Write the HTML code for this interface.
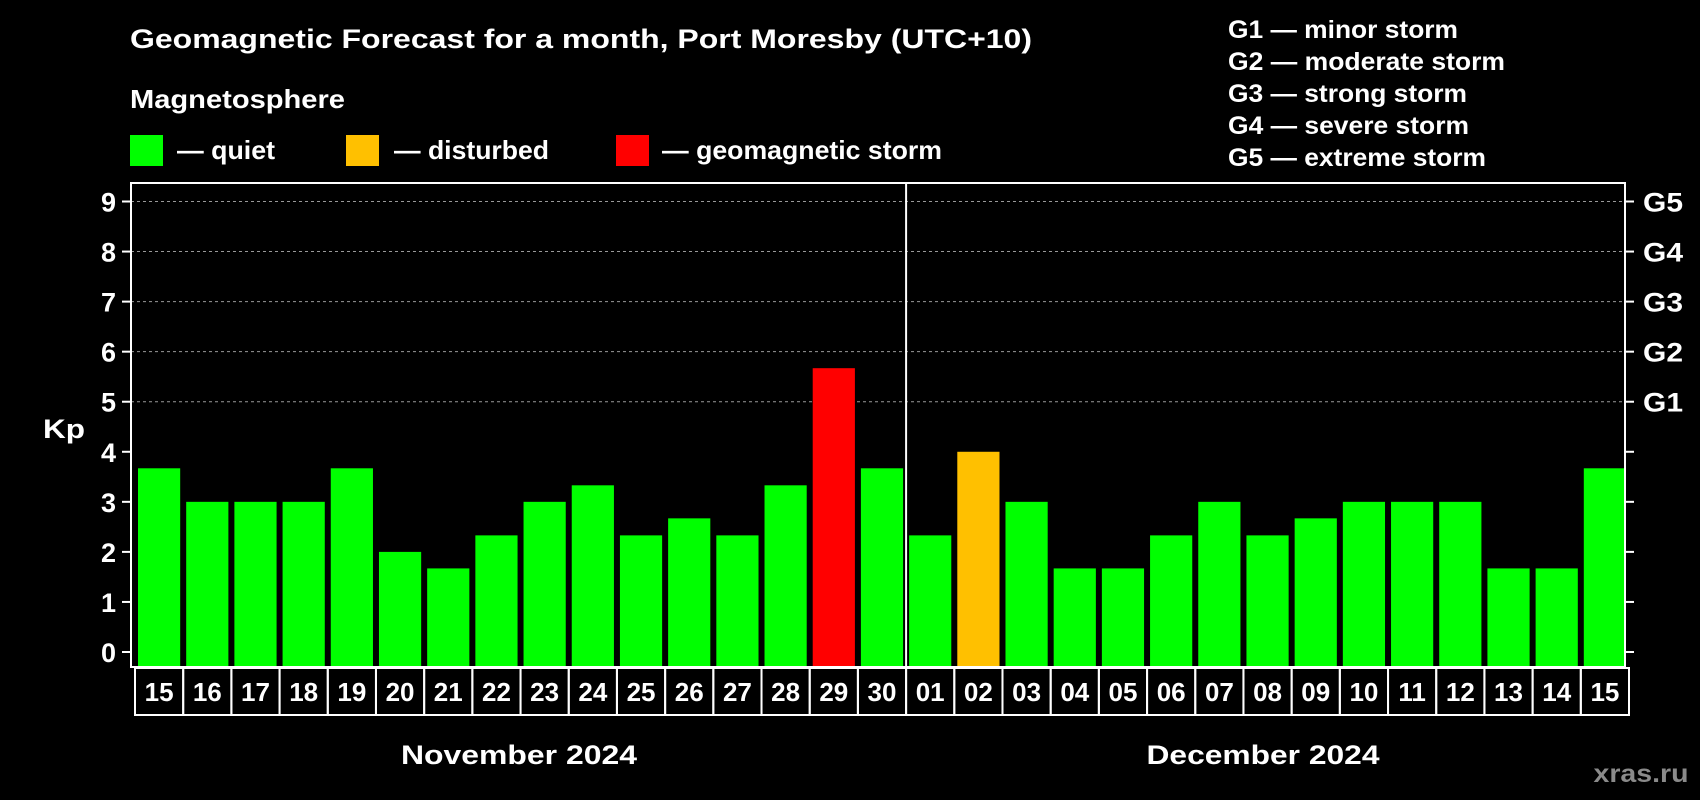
<!DOCTYPE html>
<html><head><meta charset="utf-8"><style>
html,body{margin:0;padding:0;background:#000;width:1700px;height:800px;overflow:hidden}
svg text{font-family:"Liberation Sans",Arial,sans-serif;font-weight:bold;fill:#fff}
</style></head><body>
<svg id="chart" width="1700" height="800" xmlns="http://www.w3.org/2000/svg">
<text x="130" y="48" font-size="27" textLength="902" lengthAdjust="spacingAndGlyphs">Geomagnetic Forecast for a month, Port Moresby (UTC+10)</text>
<text x="130" y="108" font-size="26" textLength="215" lengthAdjust="spacingAndGlyphs">Magnetosphere</text>
<rect x="130" y="135" width="33" height="31" fill="#00ff00"/>
<text x="177" y="159" font-size="26" textLength="98" lengthAdjust="spacingAndGlyphs">— quiet</text>
<rect x="346" y="135" width="33" height="31" fill="#ffc000"/>
<text x="394" y="159" font-size="26" textLength="155" lengthAdjust="spacingAndGlyphs">— disturbed</text>
<rect x="616" y="135" width="33" height="31" fill="#ff0000"/>
<text x="662" y="159" font-size="26" textLength="280" lengthAdjust="spacingAndGlyphs">— geomagnetic storm</text>
<g>
<text x="1228" y="38" font-size="25" textLength="230" lengthAdjust="spacingAndGlyphs">G1 — minor storm</text>
<text x="1228" y="70" font-size="25" textLength="277" lengthAdjust="spacingAndGlyphs">G2 — moderate storm</text>
<text x="1228" y="102" font-size="25" textLength="239" lengthAdjust="spacingAndGlyphs">G3 — strong storm</text>
<text x="1228" y="134" font-size="25" textLength="241" lengthAdjust="spacingAndGlyphs">G4 — severe storm</text>
<text x="1228" y="166" font-size="25" textLength="258" lengthAdjust="spacingAndGlyphs">G5 — extreme storm</text>
</g>
<text x="43" y="438" font-size="27" textLength="42" lengthAdjust="spacingAndGlyphs">Kp</text>
<g id="plot"></g>
<text x="519" y="764" font-size="27" text-anchor="middle" textLength="236" lengthAdjust="spacingAndGlyphs">November 2024</text>
<text x="1263" y="764" font-size="27" text-anchor="middle" textLength="233" lengthAdjust="spacingAndGlyphs">December 2024</text>
<text x="1641" y="782" font-size="25" text-anchor="middle" textLength="95" lengthAdjust="spacingAndGlyphs" style="fill:#8a8a8a">xras.ru</text>
</svg>
<script>
const days = ["15","16","17","18","19","20","21","22","23","24","25","26","27","28","29","30","01","02","03","04","05","06","07","08","09","10","11","12","13","14","15"];
const kpValues = [3.67,3,3,3,3.67,2,1.67,2.33,3,3.33,2.33,2.67,2.33,3.33,5.67,3.67,2.33,4,3,1.67,1.67,2.33,3,2.33,2.67,3,3,3,1.67,1.67,3.67];
const yTicks = [0,1,2,3,4,5,6,7,8,9];
const gLabels = ["G1","G2","G3","G4","G5"];
const gLevels = [5,6,7,8,9];

const NS="http://www.w3.org/2000/svg";
const g=document.getElementById('plot');
const L=131,R=1625,T=183,B=667,y0=652,unit=(652-201.5)/9;
const pitch=(R-L)/days.length;
const y=v=>y0-v*unit;
const x=i=>L+i*pitch;
function mk(t,a){const e=document.createElementNS(NS,t);for(const k in a)e.setAttribute(k,a[k]);g.appendChild(e);return e;}

gLevels.forEach((v,i)=>{
 const l=mk('line',{x1:L,x2:R,y1:y(v),y2:y(v),stroke:'#999','stroke-width':1,'stroke-dasharray':'3,3'});
 
 
 const t=mk('text',{x:1643,y:y(v)+10,'font-size':27,textLength:40,lengthAdjust:'spacingAndGlyphs'});
 t.textContent=gLabels[i];
 
 
});
yTicks.forEach(v=>{
 const a=mk('line',{x1:L-9,x2:L,y1:y(v),y2:y(v),stroke:'#fff','stroke-width':2});
 
 
 const b=mk('line',{x1:R,x2:R+9,y1:y(v),y2:y(v),stroke:'#fff','stroke-width':2});
 
 
 const t=mk('text',{x:116,y:y(v)+10,'font-size':27,'text-anchor':'end'});
 t.textContent=v;
 
 
});
kpValues.forEach((v,i)=>{
 const c=v>=5?'#ff0000':(v>=4?'#ffc000':'#00ff00');
 const r=mk('rect',{x:x(i)+7,y:y(v),width:pitch-6,height:B-1-y(v),fill:c});
 
 
 const cell=mk('rect',{x:x(i)+4,y:B+1,width:pitch,height:47,fill:'none',stroke:'#fff','stroke-width':2});
 
 
 const t=mk('text',{x:x(i)+4+pitch/2,y:B+34,'font-size':26,'text-anchor':'middle'});
 t.textContent=days[i];
 
 
});
const f=mk('rect',{x:L,y:T,width:R-L,height:B-T,fill:'none',stroke:'#fff','stroke-width':2});


const dv=mk('line',{x1:x(16)+4,x2:x(16)+4,y1:T,y2:B,stroke:'#fff','stroke-width':2});


</script>
</body></html>
